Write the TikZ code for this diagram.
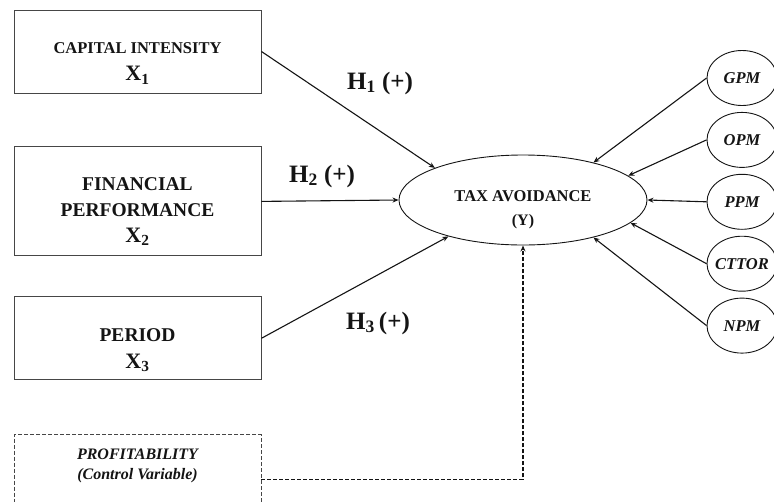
\documentclass[tikz,border=0pt]{standalone}
\usepackage{fontspec}
\setmainfont{Liberation Serif}
\usetikzlibrary{arrows.meta, positioning, shapes.geometric}
\definecolor{boxLine}{RGB}{70,70,70}
\definecolor{inkText}{RGB}{20,20,20}
\newcommand{\varsub}[2]{#1\textsubscript{#2}}
\tikzset{
    varbox/.style={
        rectangle,
        draw=boxLine,
        line width=0.9pt,
        minimum width=247pt,
        inner sep=0pt
    },
    ctrlbox/.style={
        varbox,
        dash pattern=on 4pt off 2pt
    },
    depellipse/.style={
        ellipse,
        draw=inkText,
        line width=0.9pt,
        minimum width=248pt,
        minimum height=90pt,
        inner sep=0pt
    },
    indellipse/.style={
        ellipse,
        draw=inkText,
        line width=0.9pt,
        minimum width=70pt,
        minimum height=55pt,
        inner sep=-6pt,
        text=inkText,
        font=\fontsize{16.5}{18}\selectfont\bfseries\itshape
    },
    boxtext/.style={align=center, text=inkText, font=\fontsize{19.5}{26}\selectfont\bfseries},
    hyplabel/.style={text=inkText, font=\fontsize{25}{28}\selectfont\bfseries},
    patharrow/.style={-{Stealth[length=6pt,width=5pt]}, line width=1.1pt, draw=inkText},
    ctrlarrow/.style={patharrow, dash pattern=on 4pt off 2pt}
}

\begin{document}
\begin{tikzpicture}[x=1pt, y=-1pt]
    \useasboundingbox (0,0) rectangle (774,501);
    \clip (0,0) rectangle (774,501);

    % independent variables
    \node[varbox, minimum height=83pt] (capint) at (137.5,51.5) {};
    \node[varbox, minimum height=109pt, below=53pt of capint] (finperf) {};
    \node[varbox, minimum height=83pt, below=40pt of finperf] (period) {};
    \node[ctrlbox, minimum height=90pt, below=54pt of period] (profit) {};

    \node[boxtext, yshift=-12pt, font=\fontsize{16.5}{27}\selectfont\bfseries] (capinttxt) at (capint)
        {CAPITAL INTENSITY\\{\fontsize{22}{27}\selectfont\varsub{X}{1}}};
    \node[boxtext, yshift=-10.5pt] (finperftxt) at (finperf)
        {FINANCIAL\\PERFORMANCE\\{\fontsize{22}{26}\selectfont\varsub{X}{2}}};
    \node[boxtext, yshift=-12pt, font=\fontsize{19.5}{27}\selectfont\bfseries] (periodtxt) at (period)
        {PERIOD\\{\fontsize{22}{27}\selectfont\varsub{X}{3}}};
    \node[boxtext, yshift=14pt, font=\fontsize{16}{20}\selectfont\bfseries\itshape] (profittxt) at (profit)
        {PROFITABILITY\\(Control Variable)};

    % dependent variable
    \node[depellipse] (taxav) at (523,200) {};
    \node[boxtext, yshift=-10pt, font=\fontsize{16.5}{24}\selectfont\bfseries] (taxavtxt) at (taxav)
        {TAX AVOIDANCE\\{\fontsize{16}{24}\selectfont(Y)}};

    % indicators
    \node[indellipse] (gpm) at (742,78) {GPM};
    \node[indellipse, below=6pt of gpm] (opm) {OPM};
    \node[indellipse, below=6pt of opm] (ppm) {PPM};
    \node[indellipse, below=6pt of ppm] (cttor) {CTTOR};
    \node[indellipse, below=6pt of cttor] (npm) {NPM};

    % hypotheses
    \node[hyplabel] (hone) at (380,83) {\varsub{H}{1} (+)};
    \node[hyplabel] (htwo) at (322,176) {\varsub{H}{2} (+)};
    \node[hyplabel] (hthree) at (378,323) {\varsub{H}{3}\,(+)};

    \draw[patharrow] (capint.east) -- (taxav.160.6);
    \draw[patharrow] (finperf.east) -- (taxav.west);
    \draw[patharrow] (period.east) -- (taxav.206);
    \draw[ctrlarrow] (profit.east) -| (taxav.south);
    \foreach \ind/\ang in {gpm/28.5, opm/13.4, ppm/0, cttor/-12.1, npm/-28.5}
        \draw[patharrow] (\ind.west) -- (taxav.\ang);
\end{tikzpicture}
\end{document}
